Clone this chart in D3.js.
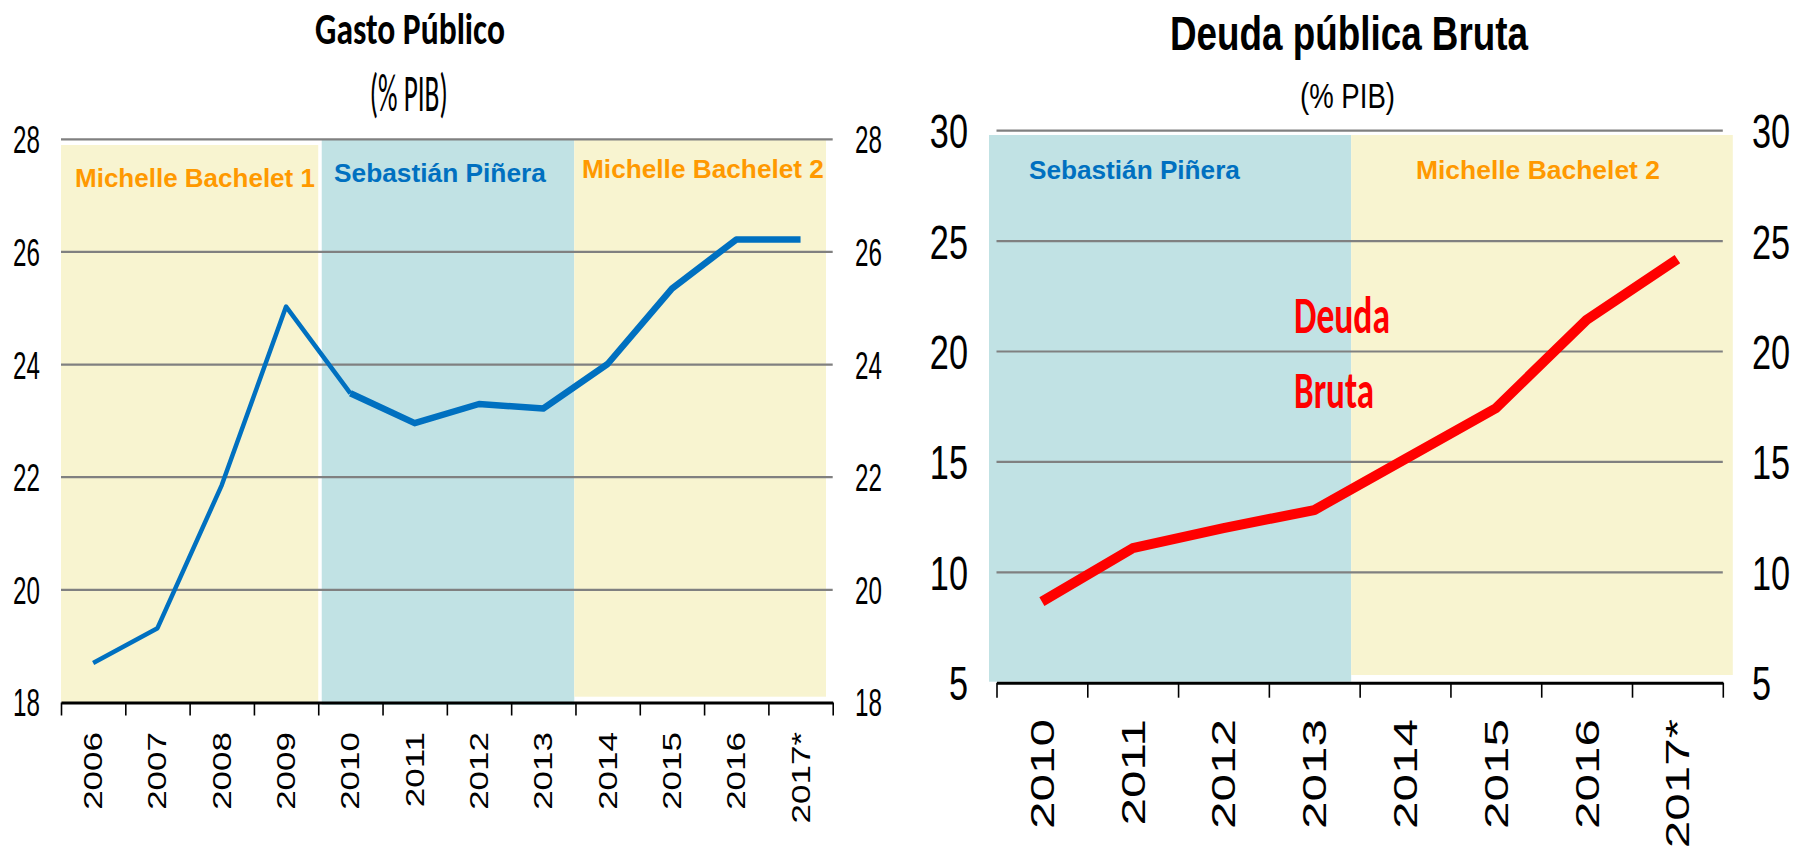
<!DOCTYPE html>
<html>
<head>
<meta charset="utf-8">
<script src="https://cdn.jsdelivr.net/npm/d3@7"></script>
<style>
body { margin: 0; background: #fff; }
</style>
</head>
<body>
<svg id="chart" width="1799" height="850"></svg>
<script>
// ---- data: gasto publico (% PIB)
var gastoYears = ["2006", "2007", "2008", "2009", "2010", "2011", "2012", "2013", "2014", "2015", "2016", "2017*"];
var gastoValues = [18.70, 19.32, 21.86, 25.03, 23.49, 22.96, 23.30, 23.22, 24.01, 25.35, 26.22, 26.22];
var gastoTicks = [18, 20, 22, 24, 26, 28];
var gastoPeriodNames = ["Michelle Bachelet 1", "Sebastián Piñera", "Michelle Bachelet 2"];
var gastoPeriodFirst = ["2006", "2010", "2014"];
var gastoPeriodLast = ["2009", "2013", "2017*"];

// ---- data: deuda publica bruta (% PIB)
var deudaYears = ["2010", "2011", "2012", "2013", "2014", "2015", "2016", "2017*"];
var deudaValues = [8.67, 11.09, 12.00, 12.82, 15.13, 17.43, 21.43, 24.18];
var deudaTicks = [5, 10, 15, 20, 25, 30];
var deudaPeriodNames = ["Sebastián Piñera", "Michelle Bachelet 2"];
var deudaPeriodFirst = ["2010", "2014"];
var deudaPeriodLast = ["2013", "2017*"];

var ARIAL = "'Liberation Sans', Arial, sans-serif";
var CALIBRI = "Carlito, Lato, sans-serif";
var bgColor = function(name) { return name.indexOf("Piñera") >= 0 ? "#c1e2e4" : "#f8f4d0"; };
var txtColor = function(name) { return name.indexOf("Piñera") >= 0 ? "#0070c0" : "#ff9900"; };

var svg = d3.select("#chart");

// text with horizontal squeeze, either fixed (sx) or fitted to a width
function addText(parent, str, x, y, o) {
  var g = parent.append("g");
  var t = g.append("text").text(str)
    .attr("font-family", o.font)
    .attr("font-size", o.size)
    .attr("font-weight", o.weight || "normal")
    .attr("fill", o.color || "#000")
    .attr("text-anchor", o.anchor || "start");
  var sx = o.sx || 1;
  if (o.width) sx = o.width / t.node().getComputedTextLength();
  g.attr("transform", "translate(" + x + "," + y + ") scale(" + sx + ",1)");
  return g;
}

function drawChart(c) {
  var g = svg.append("g");
  var x = d3.scaleBand().domain(c.years).range([c.x0, c.x1]).paddingInner(0).paddingOuter(0);
  var bw = x.bandwidth();
  var y = d3.scaleLinear().domain(c.domain).range([c.yBottom, c.yTop]);

  // period backgrounds
  c.periodNames.forEach(function(name, i) {
    var b = c.bg[i];
    var xa = x(c.periodFirst[i]) + b[0], xb = x(c.periodLast[i]) + bw + b[1];
    g.append("rect")
      .attr("x", xa).attr("y", b[2])
      .attr("width", xb - xa).attr("height", b[3] - b[2])
      .attr("fill", bgColor(name));
  });

  // gridlines
  g.selectAll(".grid")
    .data(c.ticks.slice(1))
    .enter().append("line")
    .attr("x1", c.x0).attr("x2", c.x1)
    .attr("y1", function(d) { return y(d); })
    .attr("y2", function(d) { return y(d); })
    .attr("stroke", "#808080")
    .attr("stroke-width", 2.2);

  // period names
  c.periodNames.forEach(function(name, i) {
    var p = c.labelPos[i];
    addText(g, name, p[0], p[1], { font: ARIAL, size: 26, weight: "bold", color: txtColor(name), width: p[2] });
  });

  // series line
  var line = d3.line()
    .x(function(d) { return x(d.year) + bw / 2; })
    .y(function(d) { return y(d.v); });
  var pts = c.years.map(function(yr, i) { return { year: yr, v: c.values[i] }; });
  c.strokes.forEach(function(s) {
    g.append("path")
      .datum(pts.slice(s[0], s[1]))
      .attr("d", line)
      .attr("fill", "none")
      .attr("stroke", c.lineColor)
      .attr("stroke-width", s[2])
      .attr("stroke-linejoin", "round");
  });

  // x axis: ticks on category boundaries
  var idx = d3.scaleLinear().domain([0, c.years.length]).range([c.x0, c.x1]);
  var axis = d3.axisBottom(idx).tickValues(d3.range(c.years.length + 1))
    .tickSize(c.tickLen).tickSizeOuter(0).tickFormat("");
  var ax = g.append("g").attr("transform", "translate(0," + y(c.domain[0]) + ")").call(axis);
  ax.select(".domain").attr("stroke", "#000").attr("stroke-width", 3);
  ax.selectAll(".tick line").attr("stroke", "#000").attr("stroke-width", 1.6);

  // year labels, rotated
  c.years.forEach(function(yr) {
    var cx = x(yr) + bw / 2;
    g.append("text")
      .attr("transform", "translate(" + (cx + c.yrH / 2) + "," + c.yrTop + ") rotate(-90) scale(1," + c.yrSy + ")")
      .attr("text-anchor", "end")
      .attr("font-family", ARIAL)
      .attr("font-size", c.yrSize)
      .text(yr);
  });

  // value labels, both sides
  c.ticks.forEach(function(t) {
    var yy = y(t) + c.valSize * 0.358;
    addText(g, t, c.leftLab, yy, { font: ARIAL, size: c.valSize, anchor: "end", sx: c.valSx });
    addText(g, t, c.rightLab, yy, { font: ARIAL, size: c.valSize, anchor: "start", sx: c.valSx });
  });
  return g;
}

drawChart({
  years: gastoYears, values: gastoValues, ticks: gastoTicks, domain: [18, 28],
  periodNames: gastoPeriodNames, periodFirst: gastoPeriodFirst, periodLast: gastoPeriodLast,
  x0: 61, x1: 832.7, yTop: 139.3, yBottom: 702.5,
  bg: [[0, 0, 145, 702], [3.5, -1.2, 140, 705], [-1.2, -6.7, 140, 696.7]],
  labelPos: [[75, 186.7, 240], [334, 181.7, 212], [582, 178.3, 242]],
  lineColor: "#0070c0", strokes: [[0, 5, 4.5], [4, 12, 6.5]],
  tickLen: 13, yrTop: 732, yrSize: 35, yrSy: 0.72, yrH: 18,
  valSize: 39, valSx: 0.62, leftLab: 40, rightLab: 855
});

drawChart({
  years: deudaYears, values: deudaValues, ticks: deudaTicks, domain: [5, 30],
  periodNames: deudaPeriodNames, periodFirst: deudaPeriodFirst, periodLast: deudaPeriodLast,
  x0: 996.5, x1: 1722.8, yTop: 130.7, yBottom: 682.7,
  bg: [[-7.5, -8.5, 135, 681.7], [-8.5, 10, 135, 675]],
  labelPos: [[1029, 179, 211], [1416, 179, 244]],
  lineColor: "#ff0000", strokes: [[0, 8, 10]],
  tickLen: 15, yrTop: 719, yrSize: 49.5, yrSy: 0.68, yrH: 24,
  valSize: 49, valSx: 0.7, leftLab: 968, rightLab: 1752
});

// titles
addText(svg, "Gasto Público", 410, 44, { font: CALIBRI, size: 44, weight: "bold", anchor: "middle", width: 190 });
addText(svg, "(% PIB)", 408.7, 111, { font: CALIBRI, size: 54, anchor: "middle", width: 78 });
addText(svg, "Deuda pública  Bruta", 1349, 50, { font: ARIAL, size: 48, weight: "bold", anchor: "middle", width: 358 });
addText(svg, "(% PIB)", 1347.5, 108.3, { font: ARIAL, size: 35, anchor: "middle", width: 95 });

// series name inside the debt chart
addText(svg, "Deuda", 1294, 333.3, { font: CALIBRI, size: 53, weight: "bold", color: "#ff0000", width: 96 });
addText(svg, "Bruta", 1294, 408.3, { font: CALIBRI, size: 52, weight: "bold", color: "#ff0000", width: 80 });
</script>
</body>
</html>
